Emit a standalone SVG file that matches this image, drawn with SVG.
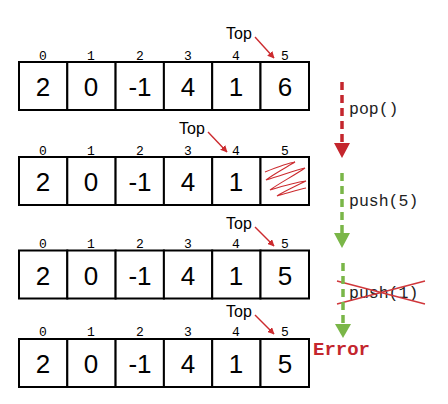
<svg xmlns="http://www.w3.org/2000/svg" width="448" height="404" viewBox="0 0 448 404">
<style>
.cell{fill:#fff;stroke:#000;stroke-width:2}
.num{font-family:"Liberation Sans",Arial,sans-serif;font-size:26px;text-anchor:middle;fill:#000}
.idx{font-family:"Liberation Mono","Courier New",monospace;font-size:13px;text-anchor:middle;fill:#000}
.top{font-family:"Liberation Sans",Arial,sans-serif;font-size:16px;fill:#000}
.ptr{stroke:#cc2b2f;stroke-width:1.4;fill:none}
.op{font-family:"Liberation Mono","Courier New",monospace;font-size:16.5px;fill:#222}
.dred{stroke:#c4262d;stroke-width:3.5;stroke-dasharray:8 5;fill:none}
.dgreen{stroke:#7ab648;stroke-width:3.5;stroke-dasharray:8 5;fill:none}
</style>
<defs>
<marker id="ah" viewBox="0 0 10 10" refX="9" refY="5" markerWidth="7" markerHeight="7" orient="auto" markerUnits="userSpaceOnUse">
<path d="M0,0 L10,5 L0,10 z" fill="#cc2b2f"/>
</marker>
<g id="idxrow">
<text class="idx" x="43" y="0">0</text><text class="idx" x="91" y="0">1</text><text class="idx" x="140" y="0">2</text><text class="idx" x="188" y="0">3</text><text class="idx" x="236" y="0">4</text><text class="idx" x="285" y="0">5</text>
</g>
<g id="cells">
<rect class="cell" x="19" y="0" width="48.3" height="48"/><rect class="cell" x="67.3" y="0" width="48.3" height="48"/><rect class="cell" x="115.6" y="0" width="48.3" height="48"/><rect class="cell" x="163.9" y="0" width="48.3" height="48"/><rect class="cell" x="212.2" y="0" width="48.3" height="48"/><rect class="cell" x="260.5" y="0" width="48.5" height="48"/>
</g>
</defs>

<g id="row1">
<use href="#idxrow" y="60"/>
<use href="#cells" y="62"/>
<text class="num" x="43" y="96">2</text><text class="num" x="91" y="96">0</text><text class="num" x="140" y="96">-1</text><text class="num" x="188" y="96">4</text><text class="num" x="236" y="96">1</text><text class="num" x="285" y="96">6</text>
<text class="top" x="226" y="39">Top</text>
</g>

<g id="row2">
<use href="#idxrow" y="155"/>
<use href="#cells" y="157"/>
<text class="num" x="43" y="191">2</text><text class="num" x="91" y="191">0</text><text class="num" x="140" y="191">-1</text><text class="num" x="188" y="191">4</text><text class="num" x="236" y="191">1</text>
<path d="M265,172 C275,168 288,163 295,162 C285,168 272,175 266,180 C280,176 296,170 305,168 C295,175 278,184 270,190 C283,186 298,182 306,181 C296,186 283,192 277,196 C288,193 300,189 306,188" fill="none" stroke="#cc2b2f" stroke-width="1.1"/>
<text class="top" x="179" y="134">Top</text>
</g>

<g id="row3">
<use href="#idxrow" y="248"/>
<use href="#cells" y="250.5"/>
<text class="num" x="43" y="285">2</text><text class="num" x="91" y="285">0</text><text class="num" x="140" y="285">-1</text><text class="num" x="188" y="285">4</text><text class="num" x="236" y="285">1</text><text class="num" x="285" y="285">5</text>
<text class="top" x="226" y="229">Top</text>
</g>

<g id="row4">
<use href="#idxrow" y="336"/>
<use href="#cells" y="339"/>
<text class="num" x="43" y="373">2</text><text class="num" x="91" y="373">0</text><text class="num" x="140" y="373">-1</text><text class="num" x="188" y="373">4</text><text class="num" x="236" y="373">1</text><text class="num" x="285" y="373">5</text>
<text class="top" x="226" y="317">Top</text>
<text x="313" y="355" font-family="Liberation Mono,'Courier New',monospace" font-size="19px" font-weight="bold" fill="#c4262d">Error</text>
</g>

<g id="ops">
<text class="op" x="349" y="114">pop()</text>
<text class="op" x="349" y="206">push(5)</text>
<text class="op" x="349" y="298">push(1)</text>
<path d="M337,281 L425,304 M337,304 L425,281" stroke="#d0373b" stroke-width="1.4" fill="none"/>
</g>

<g id="connectors">
<line class="ptr" x1="255" y1="37" x2="274" y2="58" marker-end="url(#ah)"/>
<line class="ptr" x1="208" y1="132" x2="227" y2="152" marker-end="url(#ah)"/>
<line class="ptr" x1="255" y1="227" x2="274" y2="246" marker-end="url(#ah)"/>
<line class="ptr" x1="255" y1="315" x2="274" y2="334" marker-end="url(#ah)"/>
<line class="dred" x1="342" y1="82" x2="342" y2="144"/>
<path d="M334,143 L350,143 L342,158 z" fill="#c4262d"/>
<line class="dgreen" x1="342" y1="173" x2="342" y2="234"/>
<path d="M334,233 L350,233 L342,248 z" fill="#7ab648"/>
<line class="dgreen" x1="343" y1="263" x2="343" y2="325"/>
<path d="M335,324 L351,324 L343,338 z" fill="#7ab648"/>
</g>
</svg>
